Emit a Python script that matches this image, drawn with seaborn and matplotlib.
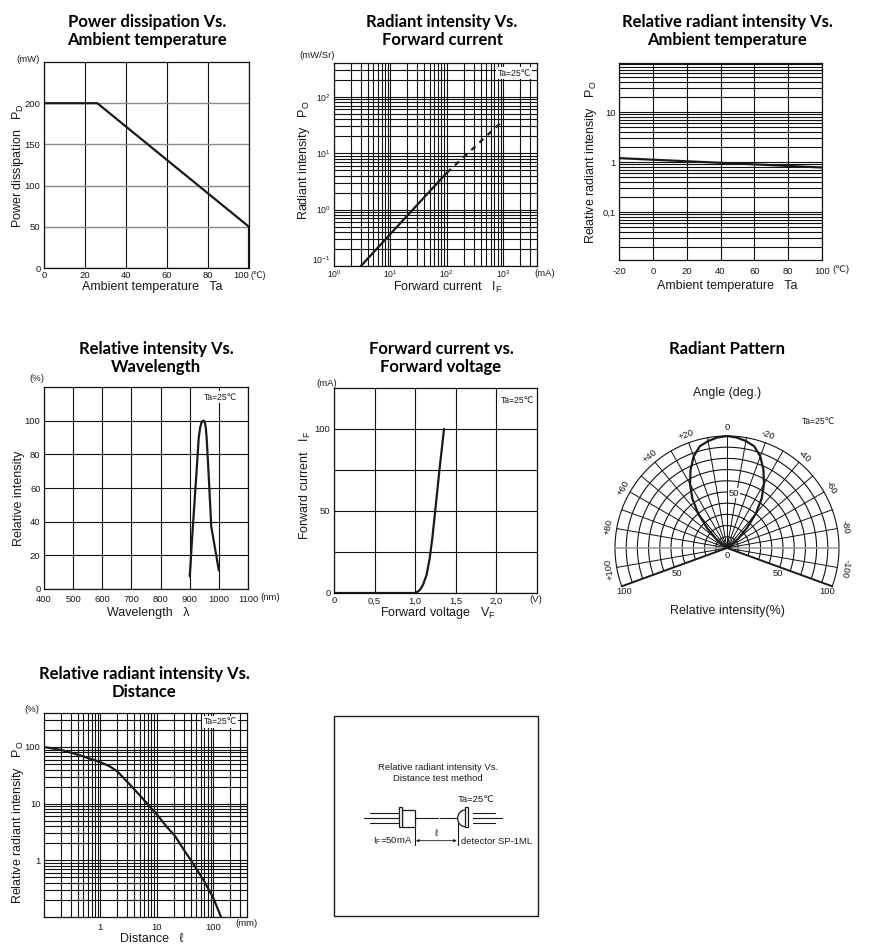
import matplotlib
matplotlib.use('Agg')
import matplotlib.pyplot as plt
import numpy as np
import seaborn as sns

W, H = 888, 952

# curves
power_temp = [0, 26, 100, 100]
power_mw = [200, 200, 50, 0]

radiant_if = [3, 100]
radiant_po = [0.1, 4.5]
radiant_if_dash = [100, 1000]
radiant_po_dash = [4.5, 38]

ambient_temp = [-20, 100]
ambient_rel = [1.2, 0.78]

wave_nm = [900, 903, 907, 923, 931, 936, 940, 944, 948, 952, 955, 958, 963, 974, 986, 1000]
wave_rel = [7.5, 15, 27, 68.6, 90, 96, 98.6, 99.8, 100, 99, 96, 90, 74.6, 37, 25, 11]

vf_volt = [0, 1.0, 1.03, 1.06, 1.096, 1.14, 1.178, 1.21, 1.24, 1.30, 1.355]
vf_curr = [0, 0, 0.8, 2, 5, 11, 21, 33, 47, 75.7, 100]

pattern_deg = [-60, -55, -50, -45, -40, -35, -30, -25, -20, -15, -10, -5, 0,
               5, 10, 15, 20, 25, 30, 35, 40, 45, 50, 55, 60]
pattern_rel = [0, 5, 13, 25, 40, 54, 66, 77, 87, 94, 97, 99, 100,
               99, 97, 94, 87, 77, 66, 54, 40, 25, 13, 5, 0]

dist_mm = [0.1, 0.2, 0.32, 0.5, 1, 1.5, 2, 3.3, 5, 10, 15, 21, 30, 45, 70, 100, 138]
dist_rel = [100, 89, 78, 68, 54, 45, 37, 22, 14, 6.5, 3.9, 2.7, 1.55, 0.85, 0.42, 0.22, 0.1]

sns.set_theme(style='white')
plt.rcParams['font.family'] = ['Liberation Sans', 'DejaVu Sans']
plt.rcParams['mathtext.fontset'] = 'custom'
plt.rcParams['mathtext.rm'] = 'Liberation Sans'
plt.rcParams['axes.linewidth'] = 0.9
plt.rcParams['axes.edgecolor'] = '#111111'
plt.rcParams['axes.unicode_minus'] = False

INK = '#1a1a1a'
GRID = '#111111'
TICK = 6.8
LABEL = 9
SMALL = 6.2

fig = plt.figure(figsize=(W / 100, H / 100), dpi=100, facecolor='white')


def px_axes(x0, y0, x1, y1, **kw):
    return fig.add_axes([x0 / W, 1 - y1 / H, (x1 - x0) / W, (y1 - y0) / H], **kw)


def px_text(x, y, s, size=TICK, **kw):
    kw.setdefault('ha', 'center')
    kw.setdefault('va', 'center')
    kw.setdefault('color', INK)
    return fig.text(x / W, 1 - y / H, s, fontsize=size, **kw)


def title(x, y, s):
    px_text(x, y + 2, s, size=12, family='Lato', fontweight='bold', color='black',
            linespacing=1.2)


def ta_box(x, y):
    px_text(x, y, 'Ta=25℃', size=SMALL, zorder=10,
            bbox=dict(facecolor='white', edgecolor='none', pad=1.2))


def labels(ax, box, xlabel, xpos, ylabel, ypos):
    x0, y0, x1, y1 = box
    ax.set_xlabel(xlabel, fontsize=LABEL, color=INK, va='center')
    ax.xaxis.set_label_coords((xpos[0] - x0) / (x1 - x0), (y1 - xpos[1]) / (y1 - y0))
    ax.set_ylabel(ylabel, fontsize=LABEL, color=INK, va='center')
    ax.yaxis.set_label_coords((ypos[0] - x0) / (x1 - x0), (y1 - ypos[1]) / (y1 - y0))
    ax.tick_params(which='both', length=0, labelsize=TICK, labelcolor=INK, pad=2.5)


def log_minor(lo, hi):
    return [m * 10.0 ** e for e in range(lo, hi) for m in range(2, 10)]


def curve(ax, x, y, lw=1.6, **kw):
    sns.lineplot(x=x, y=y, ax=ax, color=INK, linewidth=lw, estimator=None, sort=False,
                 legend=False, **kw)


# Power dissipation
box = (44, 62, 249, 268)
ax = px_axes(*box)
ax.set_xlim(0, 100)
ax.set_ylim(0, 250)
ax.set_xticks([0, 20, 40, 60, 80, 100])
ax.set_yticks([0, 50, 100, 150, 200])
ax.grid(axis='x', color=GRID, lw=0.8)
ax.grid(axis='y', color='#8a8a8a', lw=1.0)
curve(ax, power_temp, power_mw)
labels(ax, box, 'Ambient temperature   Ta', (152, 287),
       r'Power dissipation   $\mathregular{P_D}$', (18, 166))
ax.get_xticklabels()[-1].set_ha('right')
px_text(258, 275, '(℃)', size=SMALL)
px_text(28, 60, '(mW)')
title(147, 29, 'Power dissipation Vs.\nAmbient temperature')

# Radiant intensity vs forward current
box = (334, 63, 537, 266)
ax = px_axes(*box)
ax.set_xscale('log')
ax.set_yscale('log')
ax.set_xlim(1, 10 ** 3.6)
ax.set_ylim(0.1, 10 ** 2.6)
ax.set_xticks([1, 10, 100, 1000], [r'$\mathregular{10^{%d}}$' % e for e in range(4)])
ax.set_yticks([0.1, 1, 10, 100], [r'$\mathregular{10^{%d}}$' % e for e in (-1, 0, 1, 2)])
ax.set_xticks([v for v in log_minor(0, 4) if v < 10 ** 3.6], minor=True)
ax.set_yticks([v for v in log_minor(-1, 3) if v < 10 ** 2.6], minor=True)
ax.xaxis.set_minor_formatter(plt.NullFormatter())
ax.yaxis.set_minor_formatter(plt.NullFormatter())
ax.grid(which='both', color=GRID, lw=0.8)
curve(ax, radiant_if, radiant_po)
curve(ax, radiant_if_dash, radiant_po_dash, linestyle=(0, (2.5, 2.5)))
labels(ax, box, r'Forward current   $\mathregular{I_F}$', (448, 287),
       r'Radiant intensity   $\mathregular{P_O}$', (304, 160))
ax.tick_params(axis='both', labelsize=6.2)
ax.tick_params(axis='x', pad=2)
ax.get_yticklabels()[0].set_va('bottom')
px_text(317, 56, '(mW/Sr)')
px_text(545, 273, '(mA)')
ta_box(514, 73)
title(442, 29, 'Radiant intensity Vs.\nForward current')

# Relative radiant intensity vs ambient temperature
box = (619, 63, 822, 260)
ax = px_axes(*box)
ax.set_xlim(-20, 100)
ax.set_yscale('log')
ax.set_ylim(0.011, 96)
ax.set_xticks([-20, 0, 20, 40, 60, 80, 100])
ax.set_yticks([0.1, 1, 10], ['0,1', '1', '10'])
ax.set_yticks([v for v in log_minor(-2, 2) if 0.011 < v < 96], minor=True)
ax.yaxis.set_minor_formatter(plt.NullFormatter())
ax.grid(which='both', color=GRID, lw=0.8)
curve(ax, ambient_temp, ambient_rel)
labels(ax, box, 'Ambient temperature   Ta', (727, 286),
       r'Relative radiant intensity   $\mathregular{P_O}$', (591, 162))
ax.tick_params(axis='x', pad=5)
px_text(841, 270, '(℃)')
title(727, 29, 'Relative radiant intensity Vs.\nAmbient temperature')

# Relative intensity vs wavelength
box = (44, 387, 248, 589)
ax = px_axes(*box)
ax.set_xlim(400, 1100)
ax.set_ylim(0, 120)
ax.set_xticks(range(400, 1101, 100))
ax.set_yticks(range(0, 101, 20))
ax.grid(color=GRID, lw=0.8)
curve(ax, wave_nm, wave_rel)
labels(ax, box, 'Wavelength   λ', (148, 613), 'Relative intensity', (19, 498))
ax.tick_params(axis='x', pad=4)
px_text(270, 597, '(nm)')
px_text(37, 379, '(%)')
ta_box(220, 397)
title(156, 356, 'Relative intensity Vs.\nWavelength')

# Forward current vs forward voltage
box = (334, 388, 537, 593)
ax = px_axes(*box)
ax.set_xlim(0, 2.5)
ax.set_ylim(0, 125)
ax.set_xticks([0, 0.5, 1, 1.5, 2], ['0', '0,5', '1,0', '1,5', '2,0'])
ax.set_yticks([0, 50, 100])
ax.set_yticks([25, 75], minor=True)
ax.yaxis.set_minor_formatter(plt.NullFormatter())
ax.grid(which='both', color=GRID, lw=0.8)
curve(ax, vf_volt, vf_curr)
labels(ax, box, r'Forward voltage   $\mathregular{V_F}$', (438, 613),
       r'Forward current   $\mathregular{I_F}$', (305, 485))
px_text(327, 383, '(mA)')
px_text(536, 600, '(V)')
ta_box(517, 400)
title(441, 356, 'Forward current vs.\nForward voltage')

# Radiant pattern, axes square so that r=100 is 112 px from the centre
ax = px_axes(727 - 112, 548 - 112, 727 + 112, 548 + 112, projection='polar')
ax.set_theta_zero_location('N')
ax.set_theta_direction(1)
ax.set_rlim(0, 100)
ax.axis('off')
arc = np.radians(np.arange(-110, 111, 2))
for r in range(10, 101, 10):
    ax.plot(arc, np.full(arc.size, r), color=GRID, lw=0.8, clip_on=False)
for deg in range(-100, 101, 10):
    c, w = ('#999999', 1.1) if abs(deg) == 90 else (GRID, 0.7)
    ax.plot(np.radians([deg, deg]), [0, 100], color=c, lw=w, clip_on=False)
for deg in (-110, 110):
    ax.plot(np.radians([deg, deg]), [0, 100], color=INK, lw=1.4, clip_on=False)
curve(ax, np.radians(pattern_deg), pattern_rel, lw=1.6, clip_on=False)
ax.set_xlabel('')
ax.set_ylabel('')
for deg in range(-100, 101, 20):
    if deg == 0:
        continue
    a = np.radians(deg)
    px, py = 727 - 120 * np.sin(a), 548 - 120 * np.cos(a)
    px_text(px, py, ('%+d' % deg), rotation=deg, rotation_mode='anchor')
px_text(727, 427, '0')
px_text(727, 556, '0')
px_text(734, 493, '50', bbox=dict(facecolor='white', edgecolor='none', pad=0.5))
px_text(677, 574, '50')
px_text(778, 574, '50')
px_text(624, 592, '100')
px_text(827, 592, '100')
px_text(727, 393, 'Angle (deg.)', size=LABEL)
px_text(727, 611, 'Relative intensity(%)', size=LABEL)
ta_box(818, 421)
title(727, 347, 'Radiant Pattern')

# Relative radiant intensity vs distance
box = (44, 713, 247, 917)
ax = px_axes(*box)
ax.set_xscale('log')
ax.set_yscale('log')
ax.set_xlim(0.1, 10 ** 2.6)
ax.set_ylim(0.1, 10 ** 2.6)
ax.set_xticks([1, 10, 100], ['1', '10', '100'])
ax.set_yticks([1, 10, 100], ['1', '10', '100'])
ax.set_xticks([v for v in log_minor(-1, 3) if v < 10 ** 2.6], minor=True)
ax.set_yticks([v for v in log_minor(-1, 3) if v < 10 ** 2.6], minor=True)
ax.xaxis.set_minor_formatter(plt.NullFormatter())
ax.yaxis.set_minor_formatter(plt.NullFormatter())
ax.grid(which='both', color=GRID, lw=0.8)
curve(ax, dist_mm, dist_rel)
labels(ax, box, 'Distance   ℓ', (152, 939),
       r'Relative radiant intensity   $\mathregular{P_O}$', (18, 822))
ax.tick_params(axis='x', pad=4)
px_text(32, 709, '(%)')
px_text(246, 923, '(mm)')
ta_box(220, 722)
title(144, 681, 'Relative radiant intensity Vs.\nDistance')

# test method sketch, drawn in a 630 unit square over the crop of the box
ax = fig.add_axes([330 / W, 1 - 920 / H, 210 / W, 210 / H])
ax.set_xlim(0, 630)
ax.set_ylim(630, 0)
ax.axis('off')
ax.add_patch(plt.Rectangle((13, 18), 612, 599, fill=False, edgecolor=INK, lw=1.0))
sketch_segments = [
    ((102, 325), (325, 325)), ((120, 310), (208, 310)), ((120, 338), (208, 338)),
    ((330, 325), (516, 325)), ((415, 310), (495, 310)), ((415, 338), (495, 338)),
    ((254, 350), (254, 405)), ((383, 340), (383, 405)),
]
for a, b in sketch_segments:
    ax.plot([a[0], b[0]], [a[1], b[1]], color=INK, lw=0.8)
ax.add_patch(plt.Rectangle((216, 300), 38, 50, facecolor='white', edgecolor=INK, lw=0.9, zorder=3))
ax.add_patch(plt.Rectangle((208, 292), 8, 60, facecolor='white', edgecolor=INK, lw=0.9, zorder=3))
ax.add_patch(plt.Rectangle((405, 292), 10, 60, facecolor='white', edgecolor=INK, lw=0.9, zorder=3))
ax.add_patch(matplotlib.patches.Ellipse((405, 325), 44, 50, facecolor='white', edgecolor=INK, lw=0.9, zorder=2))
ax.add_patch(plt.Rectangle((405, 298), 25, 54, facecolor='white', edgecolor='none', zorder=2.5))
ax.annotate('', xy=(380, 392), xytext=(258, 392),
            arrowprops=dict(arrowstyle='<|-|>', color=INK, lw=0.6, mutation_scale=4, shrinkA=0, shrinkB=0))
px_text(438, 773, 'Relative radiant intensity Vs.\nDistance test method', size=TICK, linespacing=1.3)
px_text(476, 800, 'Ta=25℃', size=TICK)
px_text(393, 841, r'$\mathregular{I_F}$=50mA', size=TICK)
px_text(436, 833, 'ℓ', size=TICK)
px_text(497, 842, 'detector SP-1ML', size=TICK)

fig.savefig('out.png', dpi=100)
